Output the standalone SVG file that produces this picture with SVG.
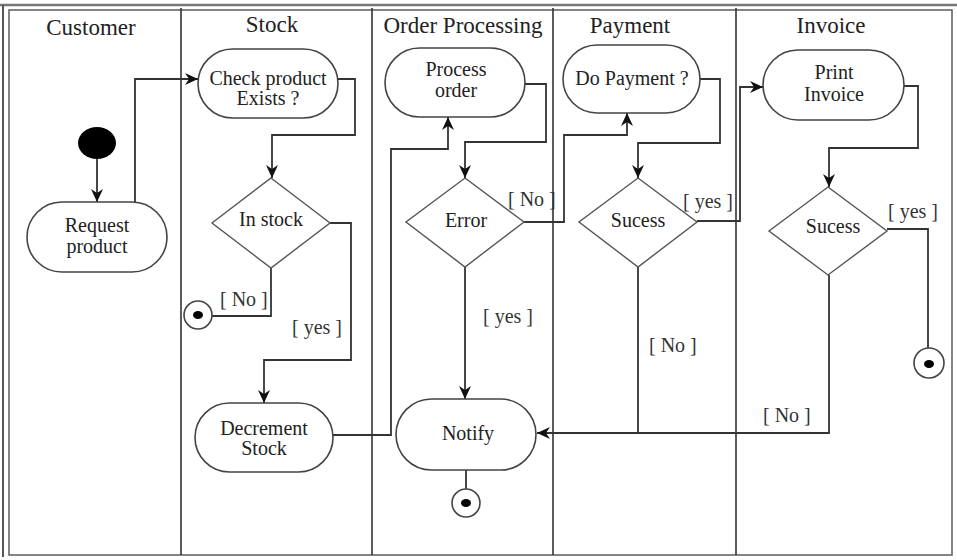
<svg xmlns="http://www.w3.org/2000/svg" width="957" height="560" viewBox="0 0 957 560">
<defs>
<style>
.frame{fill:none;stroke:#666;stroke-width:1.6}
.lane{stroke:#333;stroke-width:1.6;fill:none}
.node{fill:#fff;stroke:#444;stroke-width:1.6}
.dec{fill:#fff;stroke:#555;stroke-width:1.4}
.t{font-family:"Liberation Serif","Times New Roman",serif;font-size:20px;fill:#222;text-anchor:middle}
.h{font-size:23px}
.g{font-family:"Liberation Serif","Times New Roman",serif;font-size:20px;fill:#333}
.c{fill:none;stroke:#333;stroke-width:1.8}
.a{marker-end:url(#arr)}
.fin{fill:#fff;stroke:#444;stroke-width:1.6}
</style>
<marker id="arr" markerWidth="14" markerHeight="14" refX="13" refY="6" orient="auto" markerUnits="userSpaceOnUse" viewBox="0 0 14 12">
<path d="M0,0 L13,6 L0,12 L4,6 z" fill="#111"/>
</marker>
</defs>
<rect width="957" height="560" fill="#fff"/>
<g id="frame">
<line x1="0" y1="5" x2="957" y2="5" stroke="#777" stroke-width="2.5"/>
<line x1="3" y1="5" x2="3" y2="557" stroke="#555" stroke-width="2"/>
<rect class="frame" x="9" y="10" width="943" height="545"/>
<line class="lane" x1="181" y1="8" x2="181" y2="555"/>
<line class="lane" x1="372" y1="8" x2="372" y2="555"/>
<line class="lane" x1="553" y1="8" x2="553" y2="555"/>
<line class="lane" x1="736" y1="8" x2="736" y2="555"/>
<text class="t h" x="91" y="35">Customer</text>
<text class="t h" x="272" y="32">Stock</text>
<text class="t h" x="463" y="33">Order Processing</text>
<text class="t h" x="630" y="33">Payment</text>
<text class="t h" x="831" y="33">Invoice</text>
</g>
<g id="connectors">
<path class="c a" d="M97,159 V202"/>
<path class="c a" d="M135,203 V79 H198"/>
<path class="c a" d="M338,79 H355 V135 H272 V178"/>
<path class="c a" d="M330,223 H351 V360 H264 V403"/>
<path class="c" d="M271,268 V316 H212"/>
<path class="c a" d="M333,435 H391 V149 H448 V117"/>
<path class="c a" d="M525,84 H546 V142 H465 V178"/>
<path class="c a" d="M524,222 H564 V135 H627 V113"/>
<path class="c a" d="M465,267 V399"/>
<path class="c a" d="M700,79 H720 V143 H638 V178"/>
<path class="c a" d="M697,221 H740 V87 H763"/>
<path class="c" d="M638,267 V433"/>
<path class="c a" d="M904,86 H918 V148 H829 V187"/>
<path class="c" d="M887,229 H928 V348"/>
<path class="c a" d="M829,275 V433 H537"/>
<path class="c" d="M466,470 V489"/>
<text class="g" x="220" y="306">[ No ]</text>
<text class="g" x="292" y="334">[ yes ]</text>
<text class="g" x="508" y="206">[ No ]</text>
<text class="g" x="483" y="323">[ yes ]</text>
<text class="g" x="683" y="208">[ yes ]</text>
<text class="g" x="649" y="352">[ No ]</text>
<text class="g" x="888" y="218">[ yes ]</text>
<text class="g" x="763" y="422">[ No ]</text>
</g>
<g id="start"><ellipse cx="97" cy="143" rx="19" ry="16" fill="#000"/></g>
<g id="request"><rect class="node" x="27" y="202" width="140" height="70" rx="35" ry="35"/><text class="t" x="97" y="232">Request</text><text class="t" x="97" y="253">product</text></g>
<g id="check"><rect class="node" x="198" y="49" width="140" height="69" rx="34.5" ry="34.5"/><text class="t" x="268" y="85">Check product</text><text class="t" x="268" y="105">Exists ?</text></g>
<g id="instock"><polygon class="dec" points="271,178 330,223 271,268 212,223"/><text class="t" x="271" y="226">In stock</text></g>
<g id="end1"><circle class="fin" cx="198" cy="315" r="14"/><ellipse cx="198" cy="315" rx="5" ry="4" fill="#000"/></g>
<g id="decrement"><rect class="node" x="195" y="403" width="138" height="69" rx="34.5" ry="34.5"/><text class="t" x="264" y="435">Decrement</text><text class="t" x="264" y="455">Stock</text></g>
<g id="process"><rect class="node" x="385" y="48" width="140" height="69" rx="34.5" ry="34.5"/><text class="t" x="456" y="76">Process</text><text class="t" x="456" y="97">order</text></g>
<g id="error"><polygon class="dec" points="465,178 524,222 465,267 406,222"/><text class="t" x="466" y="227">Error</text></g>
<g id="notify"><rect class="node" x="396" y="399" width="140" height="71" rx="35.5" ry="35.5"/><text class="t" x="468" y="440">Notify</text></g>
<g id="end2"><circle class="fin" cx="466" cy="503" r="14"/><ellipse cx="466" cy="503" rx="5" ry="4" fill="#000"/></g>
<g id="dopayment"><rect class="node" x="563" y="45" width="137" height="68" rx="34" ry="34"/><text class="t" x="632" y="85">Do Payment ?</text></g>
<g id="sucess1"><polygon class="dec" points="638,178 697,222 638,267 579,222"/><text class="t" x="638" y="227">Sucess</text></g>
<g id="print"><rect class="node" x="763" y="50" width="141" height="70" rx="35" ry="35"/><text class="t" x="834" y="79">Print</text><text class="t" x="834" y="101">Invoice</text></g>
<g id="sucess2"><polygon class="dec" points="828,187 887,231 828,275 769,231"/><text class="t" x="833" y="233">Sucess</text></g>
<g id="end3"><circle class="fin" cx="929" cy="363" r="15"/><ellipse cx="929" cy="364" rx="5" ry="4" fill="#000"/></g>
</svg>
